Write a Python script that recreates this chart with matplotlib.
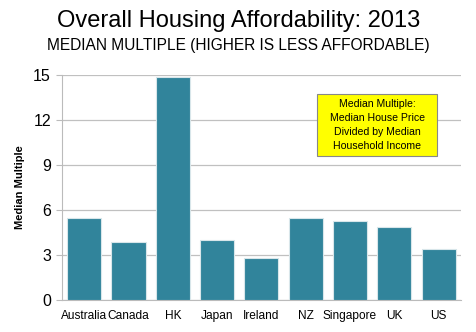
import matplotlib
matplotlib.use("Agg")
import matplotlib.pyplot as plt
from matplotlib.patches import Rectangle
import numpy as np

plt.rcParams['font.family'] = ['Liberation Sans', 'DejaVu Sans']

countries = ['Australia', 'Canada', 'HK', 'Japan', 'Ireland', 'NZ', 'Singapore', 'UK', 'US']
median_multiple = [5.5, 3.9, 14.9, 4.0, 2.8, 5.5, 5.3, 4.9, 3.4]
yticks = [0, 3, 6, 9, 12, 15]

fig = plt.figure(figsize=(4.77, 3.32), dpi=100)
ax = fig.add_axes([0.130, 0.096, 0.836, 0.678])

x = np.arange(len(countries))
ax.bar(x, median_multiple, width=0.77, color='#31849b', edgecolor='#d8e6ea', linewidth=0.8, zorder=3)

ax.set_xlim(-0.5, len(countries) - 0.5)
ax.set_ylim(0, 15)
ax.set_yticks(yticks)
ax.set_xticks(x)
ax.set_xticklabels(countries, fontsize=8.6)
ax.tick_params(axis='y', labelsize=11.5, length=4, color='#bbbbbb', pad=4)
ax.tick_params(axis='x', length=0, pad=7)
ax.grid(axis='y', color='#c0c0c0', linewidth=0.9, zorder=0)
for s in ['top', 'right']:
    ax.spines[s].set_visible(False)
ax.spines['left'].set_color('#bbbbbb')
ax.spines['bottom'].set_color('#bbbbbb')
ax.set_ylabel('Median Multiple', fontsize=8, fontweight='bold', labelpad=6)

fig.text(0.5, 0.937, 'Overall Housing Affordability: 2013', ha='center', va='center', fontsize=17)
fig.text(0.5, 0.862, 'MEDIAN MULTIPLE (HIGHER IS LESS AFFORDABLE)', ha='center', va='center', fontsize=11.2)

# yellow note box
ax.add_patch(Rectangle((0.639, 0.640), 0.301, 0.276, transform=ax.transAxes,
                       facecolor='#ffff00', edgecolor='#888888', linewidth=0.8, zorder=5))
ax.text(0.790, 0.778, 'Median Multiple:\nMedian House Price\nDivided by Median\nHousehold Income',
        transform=ax.transAxes, ha='center', va='center', fontsize=7.6, linespacing=1.5, zorder=6)

fig.savefig('out.png', dpi=100)
